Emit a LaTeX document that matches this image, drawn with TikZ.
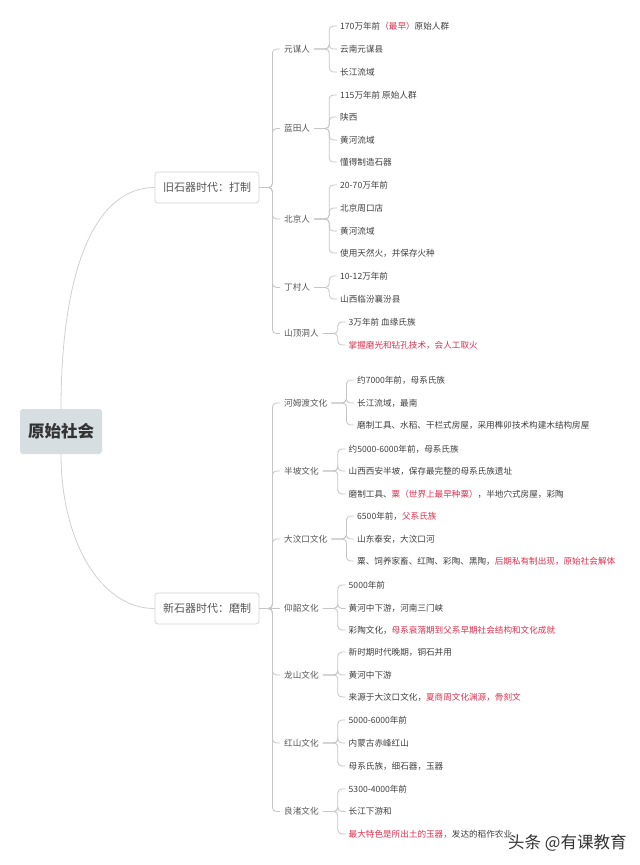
\documentclass[tikz,border=0pt]{standalone}
\usepackage{fontspec}
\setmainfont{Noto Sans CJK SC}
\definecolor{ln}{HTML}{C6C6C6}
\definecolor{cv}{HTML}{D0D0D0}
\definecolor{tx}{HTML}{404040}
\definecolor{tx2}{HTML}{555555}
\definecolor{rd}{HTML}{E0304E}
\definecolor{rootfill}{HTML}{D6DEE1}
\definecolor{boxln}{HTML}{D4D4D4}
\newcommand{\rr}[1]{\textcolor{rd}{#1}}
\tikzset{
  conn/.style={draw=ln, line width=0.8pt, rounded corners=4pt},
  curve/.style={draw=cv, line width=0.8pt},
  item/.style={anchor=west, inner xsep=3pt, inner ysep=1pt, font=\fontsize{8.6}{10}\selectfont, text=tx},
  lvltwo/.style={anchor=west, inner xsep=4pt, inner ysep=1pt, font=\fontsize{8.6}{10}\selectfont, text=tx2},
  lvlone/.style={draw=boxln, fill=white, rounded corners=3pt, line width=0.8pt, minimum width=104pt, minimum height=31pt, inner sep=0pt, font=\fontsize{11}{13}\selectfont, text=tx2},
  rootbox/.style={fill=rootfill, rounded corners=3pt, minimum width=82pt, minimum height=45pt, inner sep=0pt, font=\fontsize{16.5}{20}\selectfont\bfseries, text=black!80}
}
\begin{document}
\begin{tikzpicture}[x=1pt,y=-1pt]
\useasboundingbox (0,0) rectangle (640,865);
\fill[white] (0,0) rectangle (640,865);

% root and level one
\node[rootbox] (root) at (61,431.5) {原始社会};
\node[lvlone] (old) at (207,187.5) {旧石器时代：打制};
\node[lvlone] (new) at (207,608.5) {新石器时代：磨制};
\draw[curve] (root.north) .. controls (61,270) and (95,187.5) .. (old.west);
\draw[curve] (root.south) .. controls (61,540) and (100,608.5) .. (new.west);

% level two: old stone age
\node[lvltwo] (ym) at (280,49) {元谋人};
\node[lvltwo] (lt) at (280,128.5) {蓝田人};
\node[lvltwo] (bj) at (280,219) {北京人};
\node[lvltwo] (dc) at (280,287.5) {丁村人};
\node[lvltwo] (sd) at (280,333.5) {山顶洞人};
\foreach \n in {ym,lt,bj,dc,sd}
  \draw[conn] (old.east) -- ++(13,0) |- (\n.west);

% level two: new stone age
\node[lvltwo] (hm) at (280,403) {河姆渡文化};
\node[lvltwo] (bp) at (280,471) {半坡文化};
\node[lvltwo] (dw) at (280,539) {大汶口文化};
\node[lvltwo] (ys) at (280,608.5) {仰韶文化};
\node[lvltwo] (ls) at (280,675) {龙山文化};
\node[lvltwo] (hs) at (280,743) {红山文化};
\node[lvltwo] (lz) at (280,811.5) {良渚文化};
\foreach \n in {hm,bp,dw,ls,hs,lz}
  \draw[conn] (new.east) -- ++(13,0) |- (\n.west);
\draw[conn] (new.east) -- (ys.west);

% items
\node[item] (ym1) at (337,26) {170万年前\rr{（最早）}原始人群};
\node[item] (ym2) at (337,49) {云南元谋县};
\node[item] (ym3) at (337,72) {长江流域};

\node[item] (lt1) at (337,95) {115万年前 原始人群};
\node[item] (lt2) at (337,117) {陕西};
\node[item] (lt3) at (337,140) {黄河流域};
\node[item] (lt4) at (337,162) {懂得制造石器};

\node[item] (bj1) at (337,185) {20-70万年前};
\node[item] (bj2) at (337,208) {北京周口店};
\node[item] (bj3) at (337,231) {黄河流域};
\node[item] (bj4) at (337,253) {使用天然火，并保存火种};

\node[item] (dc1) at (337,276) {10-12万年前};
\node[item] (dc2) at (337,299) {山西临汾襄汾县};

\node[item] (sd1) at (345.5,322) {3万年前 血缘氏族};
\node[item] (sd2) at (345.5,345) {\rr{掌握磨光和钻孔技术，会人工取火}};

\node[item] (hm1) at (354,380) {约7000年前，母系氏族};
\node[item] (hm2) at (354,403) {长江流域，最南};
\node[item] (hm3) at (354,425) {磨制工具、水稻、干栏式房屋，采用榫卯技术构建木结构房屋};

\node[item] (bp1) at (345.5,449) {约5000-6000年前，母系氏族};
\node[item] (bp2) at (345.5,471) {山西西安半坡，保存最完整的母系氏族遗址};
\node[item] (bp3) at (345.5,494) {磨制工具、\rr{粟（世界上最早种粟）}，半地穴式房屋，彩陶};

\node[item] (dw1) at (354,516) {6500年前，\rr{父系氏族}};
\node[item] (dw2) at (354,539) {山东泰安，大汶口河};
\node[item] (dw3) at (354,561) {粟、饲养家畜、红陶、彩陶、黑陶，\rr{后期私有制出现，原始社会解体}};

\node[item] (ys1) at (345.5,585) {5000年前};
\node[item] (ys2) at (345.5,608.5) {黄河中下游，河南三门峡};
\node[item] (ys3) at (345.5,630) {彩陶文化，\rr{母系衰落期到父系早期社会结构和文化成就}};

\node[item] (ls1) at (345.5,652) {新时期时代晚期，铜石并用};
\node[item] (ls2) at (345.5,675) {黄河中下游};
\node[item] (ls3) at (345.5,697) {来源于大汶口文化，\rr{夏商周文化渊源，骨刻文}};

\node[item] (hs1) at (345.5,720) {5000-6000年前};
\node[item] (hs2) at (345.5,743) {内蒙古赤峰红山};
\node[item] (hs3) at (345.5,766) {母系氏族，细石器，玉器};

\node[item] (lz1) at (345.5,789) {5300-4000年前};
\node[item] (lz2) at (345.5,811.5) {长江下游和};
\node[item] (lz3) at (345.5,834) {\rr{最大特色是所出土的玉器，}发达的稻作农业};

% brackets
\foreach \p/\list in {ym/{ym1,ym2,ym3}, lt/{lt1,lt2,lt3,lt4}, bj/{bj1,bj2,bj3,bj4}, dc/{dc1,dc2}, sd/{sd1,sd2},
  hm/{hm1,hm2,hm3}, bp/{bp1,bp2,bp3}, dw/{dw1,dw2,dw3}, ys/{ys1,ys2,ys3}, ls/{ls1,ls2,ls3}, hs/{hs1,hs2,hs3}, lz/{lz1,lz2,lz3}}
  \foreach \c in \list
    \draw[conn] (\p.east) -- ++(15,0) |- (\c.west);

% watermark
\node[anchor=west, inner sep=0pt, font=\fontsize{16.5}{20}\selectfont, text=black!80] (wm) at (508,843) {头条 @有课教育};
\end{tikzpicture}
\end{document}
